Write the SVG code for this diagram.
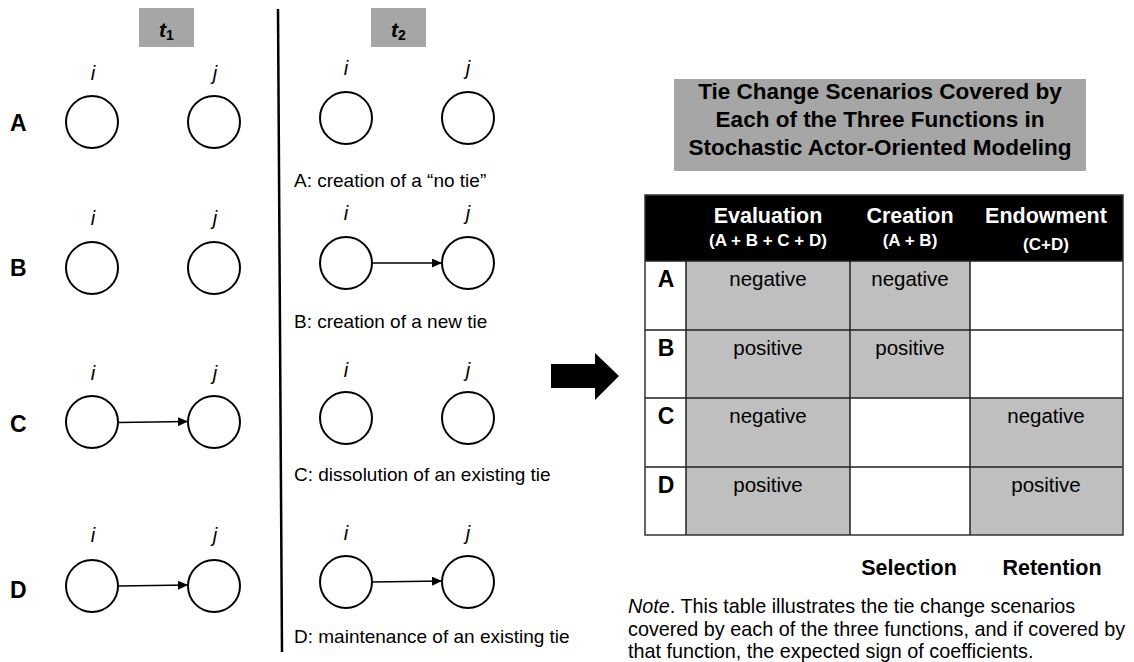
<svg xmlns="http://www.w3.org/2000/svg" width="1134" height="662" viewBox="0 0 1134 662">
<defs>
<style>
.t{font-family:"Liberation Sans",Arial,sans-serif;fill:#000}
.row{font-size:23px;font-weight:bold}
.lab{font-size:20px;font-style:italic;text-anchor:middle}
.cap{font-size:19px}
.node{fill:#fff;stroke:#000;stroke-width:2}
.edge{stroke:#000;stroke-width:1.6;fill:none;marker-end:url(#ah)}
.hdr{font-size:21.5px;font-weight:bold;fill:#fff;text-anchor:middle}
.sub{font-size:17px;font-weight:bold;fill:#fff;text-anchor:middle}
.cell{font-size:20.5px;text-anchor:middle}
.g{fill:#bfbfbf}
.grid{stroke:#222;stroke-width:1.5;fill:none}
.ttl{font-size:22.5px;font-weight:bold;text-anchor:middle}
</style>
<marker id="ah" markerWidth="11" markerHeight="9" refX="10" refY="4.5" orient="auto" markerUnits="userSpaceOnUse">
<path d="M0,0 L10,4.5 L0,9 Z" fill="#000"/>
</marker>
</defs>
<rect width="1134" height="662" fill="#fff"/>

<g id="t1">
<rect x="139" y="8" width="55" height="39" fill="#a6a6a6"/>
<text class="t" x="159" y="37" font-size="21" font-weight="bold" font-style="italic">t<tspan font-size="14" dy="3" font-style="normal">1</tspan></text>
</g>
<g id="t2">
<rect x="371" y="8" width="55" height="39" fill="#a6a6a6"/>
<text class="t" x="391" y="37" font-size="21" font-weight="bold" font-style="italic">t<tspan font-size="14" dy="3" font-style="normal">2</tspan></text>
</g>
<line x1="278" y1="9" x2="282" y2="652" stroke="#000" stroke-width="2.5"/>

<g id="t1-A">
<text class="t row" x="10" y="131">A</text>
<text class="t lab" x="93" y="80">i</text><text class="t lab" x="215" y="80">j</text>
<circle class="node" cx="92" cy="122" r="26"/><circle class="node" cx="214" cy="122" r="26"/>
</g>
<g id="t1-B">
<text class="t row" x="10" y="276">B</text>
<text class="t lab" x="93" y="225">i</text><text class="t lab" x="215" y="225">j</text>
<circle class="node" cx="92" cy="268" r="26"/><circle class="node" cx="214" cy="268" r="26"/>
</g>
<g id="t1-C">
<text class="t row" x="10" y="432">C</text>
<text class="t lab" x="93" y="380">i</text><text class="t lab" x="215" y="380">j</text>
<circle class="node" cx="92" cy="422" r="26"/><circle class="node" cx="214" cy="422" r="26"/>
</g>
<g id="t1-D">
<text class="t row" x="10" y="598">D</text>
<text class="t lab" x="93" y="542">i</text><text class="t lab" x="215" y="542">j</text>
<circle class="node" cx="92" cy="586" r="26"/><circle class="node" cx="214" cy="586" r="26"/>
</g>

<g id="t2-A">
<text class="t lab" x="346" y="75">i</text><text class="t lab" x="468" y="75">j</text>
<circle class="node" cx="346" cy="118" r="26"/><circle class="node" cx="468" cy="118" r="26"/>
<text class="t cap" x="294" y="187">A: creation of a “no tie”</text>
</g>
<g id="t2-B">
<text class="t lab" x="346" y="220">i</text><text class="t lab" x="468" y="220">j</text>
<circle class="node" cx="346" cy="263" r="26"/><circle class="node" cx="468" cy="263" r="26"/>
<text class="t cap" x="294" y="328">B: creation of a new tie</text>
</g>
<g id="t2-C">
<text class="t lab" x="346" y="377">i</text><text class="t lab" x="468" y="377">j</text>
<circle class="node" cx="346" cy="418" r="26"/><circle class="node" cx="468" cy="418" r="26"/>
<text class="t cap" x="294" y="481">C: dissolution of an existing tie</text>
</g>
<g id="t2-D">
<text class="t lab" x="346" y="540">i</text><text class="t lab" x="468" y="540">j</text>
<circle class="node" cx="346" cy="582" r="26"/><circle class="node" cx="468" cy="582" r="26"/>
<text class="t cap" x="294" y="643">D: maintenance of an existing tie</text>
</g>

<g id="connectors">
<line class="edge" x1="118" y1="422.5" x2="188" y2="421.5"/>
<line class="edge" x1="118" y1="586" x2="188" y2="585"/>
<line class="edge" x1="372" y1="263" x2="442" y2="263"/>
<line class="edge" x1="372" y1="582" x2="442" y2="581"/>
</g>

<g id="big-arrow">
<path d="M551,364 H595 V353 L619,376 L595,400 V388 H551 Z" fill="#000"/>
</g>

<g id="title">
<rect x="674" y="79" width="412" height="92" fill="#a6a6a6"/>
<text class="t ttl" x="880" y="99">Tie Change Scenarios Covered by</text>
<text class="t ttl" x="880" y="127">Each of the Three Functions in</text>
<text class="t ttl" x="880" y="155">Stochastic Actor-Oriented Modeling</text>
</g>

<g id="table">
<rect x="645" y="195" width="478" height="66" fill="#000"/>
<rect x="645" y="261" width="478" height="274" fill="#fff"/>
<rect class="g" x="686" y="261" width="164" height="274"/>
<rect class="g" x="850" y="261" width="120" height="137"/>
<rect class="g" x="970" y="398" width="153" height="137"/>
<path class="grid" d="M645,261 H1123 M645,330 H1123 M645,398 H1123 M645,467 H1123 M686,261 V535 M850,261 V535 M970,261 V535"/>
<rect x="645" y="195" width="478" height="340" fill="none" stroke="#333" stroke-width="1.5"/>
<text class="t hdr" x="768" y="223">Evaluation</text>
<text class="t sub" x="768" y="246">(A + B + C + D)</text>
<text class="t hdr" x="910" y="223">Creation</text>
<text class="t sub" x="910" y="246">(A + B)</text>
<text class="t hdr" x="1046" y="223">Endowment</text>
<text class="t sub" x="1046" y="250">(C+D)</text>
<text class="t row" x="666" y="287" text-anchor="middle" font-size="21">A</text>
<text class="t row" x="666" y="356" text-anchor="middle" font-size="21">B</text>
<text class="t row" x="666" y="424" text-anchor="middle" font-size="21">C</text>
<text class="t row" x="666" y="493" text-anchor="middle" font-size="21">D</text>
<text class="t cell" x="768" y="286">negative</text>
<text class="t cell" x="910" y="286">negative</text>
<text class="t cell" x="768" y="355">positive</text>
<text class="t cell" x="910" y="355">positive</text>
<text class="t cell" x="768" y="423">negative</text>
<text class="t cell" x="1046" y="423">negative</text>
<text class="t cell" x="768" y="492">positive</text>
<text class="t cell" x="1046" y="492">positive</text>
</g>

<g id="footer">
<text class="t" x="909" y="575" font-size="21.5" font-weight="bold" text-anchor="middle">Selection</text>
<text class="t" x="1052" y="575" font-size="21.5" font-weight="bold" text-anchor="middle">Retention</text>
<text class="t" x="628" y="613" font-size="19.8"><tspan font-style="italic">Note</tspan>. This table illustrates the tie change scenarios</text>
<text class="t" x="628" y="636" font-size="19.8">covered by each of the three functions, and if covered by</text>
<text class="t" x="628" y="658" font-size="19.8">that function, the expected sign of coefficients.</text>
</g>
</svg>
